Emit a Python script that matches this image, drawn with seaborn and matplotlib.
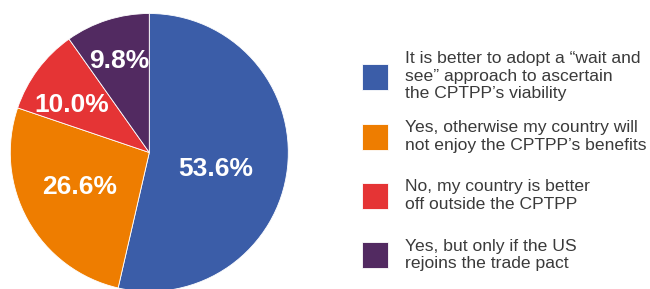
import matplotlib
matplotlib.use("Agg")
import matplotlib.pyplot as plt
import seaborn as sns
import numpy as np

categories = [
    "It is better to adopt a \u201cwait and\nsee\u201d approach to ascertain\nthe CPTPP\u2019s viability",
    "Yes, otherwise my country will\nnot enjoy the CPTPP\u2019s benefits",
    "No, my country is better\noff outside the CPTPP",
    "Yes, but only if the US\nrejoins the trade pact",
]
shares = [53.6, 26.6, 10.0, 9.8]
colors = ["#3B5DA8", "#EE7D00", "#E53435", "#522A61"]

sns.set_theme(style="white")
plt.rcParams["font.family"] = ["Liberation Sans", "DejaVu Sans"]

W, H = 650, 289
fig = plt.figure(figsize=(W / 100, H / 100), dpi=100)
fig.patch.set_facecolor("white")

# pie axes: centre (149.3,152.5) px, radius 139 px
cx, cy, r = 149.3, 152.5, 139.0
ax = fig.add_axes([(cx - r) / W, (H - cy - r) / H, 2 * r / W, 2 * r / H])
palette = sns.color_palette(colors)
pct_fs = 19
wedges, texts, autotexts = ax.pie(
    shares, colors=palette, startangle=90, counterclock=False,
    autopct="%.1f%%", pctdistance=0.6,
    wedgeprops=dict(linewidth=0.6, edgecolor="white"),
    textprops=dict(color="white", fontsize=pct_fs, fontweight="bold"),
)
ax.set_xlim(-1, 1)
ax.set_ylim(-1, 1)
ax.set_aspect("equal")
ax.axis("off")

# individual label placement (radius, angular nudge in degrees)
label_r = [0.489, 0.548, 0.664, 0.712]
label_dang = [-5.4, -4.6, 3.9, 0.1]
cap_half = 0.5 * 0.716 * pct_fs * 100 / 72 / r  # half cap height in data units
for w, t, lr, da in zip(wedges, autotexts, label_r, label_dang):
    ang = np.deg2rad((w.theta1 + w.theta2) / 2 + da)
    t.set_position((lr * np.cos(ang), lr * np.sin(ang) - cap_half))
    t.set_ha("center")
    t.set_va("baseline")

# legend: one block per entry, square centres at fixed pitch
fs = 12.6
fs_px = fs * 100 / 72
sq = 26
hh = (sq / fs_px - 0.245) / 0.65
y_centres = [76.2, 136.5, 195.5, 254.7]
for w, lab, yc in zip(wedges, categories, y_centres):
    leg = fig.legend(
        [w], [lab], loc="center left",
        bbox_to_anchor=(362 / W, 1 - yc / H),
        frameon=False, fontsize=fs,
        handlelength=sq / fs_px, handleheight=hh,
        handletextpad=17 / fs_px, borderpad=0, borderaxespad=0,
        labelcolor="#3a3a3a",
    )
    for t in leg.get_texts():
        t.set_linespacing(1.19)

fig.savefig("out.png", dpi=100, facecolor="white")
